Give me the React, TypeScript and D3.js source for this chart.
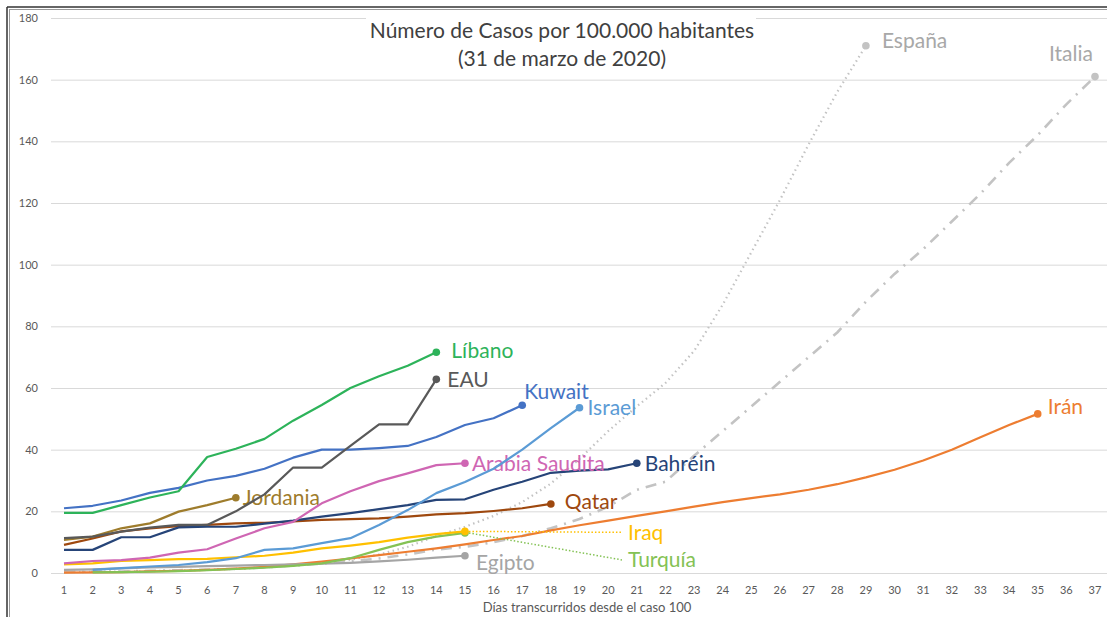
import React, { useEffect, useRef } from "react";
import * as d3 from "d3";

// dias transcurridos desde el caso 100
const dayTicks = [1, 2, 3, 4, 5, 6, 7, 8, 9, 10, 11, 12, 13, 14, 15, 16, 17, 18, 19, 20, 21, 22, 23, 24, 25, 26, 27, 28, 29, 30, 31, 32, 33, 34, 35, 36, 37];
const yTicks = [0, 20, 40, 60, 80, 100, 120, 140, 160, 180];

// casos por 100.000 habitantes, desde el dia "start"
const espana = [0.3, 0.4, 0.5, 0.6, 0.8, 1.0, 1.3, 1.8, 2.4, 3.2, 4.3, 6.0, 8.5, 12, 15, 18.5, 23, 29, 37, 46, 54, 61.6, 72, 87, 104, 121, 139, 156, 171];
const italia = [0.3, 0.4, 0.5, 0.7, 0.9, 1.1, 1.4, 1.8, 2.4, 3.0, 3.8, 4.7, 6.0, 7.6, 8.5, 10, 12, 14.5, 17.5, 21.5, 27, 29.6, 38, 46, 54, 62, 70, 78, 88, 97, 105, 114, 123, 133, 142, 152, 161];
const iran = [0.1, 0.2, 0.3, 0.5, 0.7, 1.0, 1.4, 2.0, 2.8, 3.7, 4.7, 5.8, 6.9, 8.0, 9.3, 10.7, 12.0, 13.8, 15.5, 17.0, 18.5, 20.0, 21.5, 23.0, 24.3, 25.5, 27.0, 28.8, 31.0, 33.5, 36.5, 40.0, 44.0, 48.0, 51.6];
const libano = [19.5, 19.5, 22.0, 24.5, 26.5, 37.6, 40.3, 43.5, 49.4, 54.5, 60.0, 63.8, 67.2, 71.6];
const eau = [11.3, 11.8, 13.4, 14.7, 15.6, 15.6, 20.0, 25.5, 34.2, 34.2, 41.2, 48.2, 48.2, 62.8];
const kuwait = [21.0, 21.8, 23.5, 26.0, 27.6, 30.0, 31.5, 33.8, 37.4, 40.0, 40.0, 40.5, 41.2, 44.1, 48.0, 50.2, 54.4];
const israel = [1.0, 1.6, 2.1, 2.6, 3.5, 4.8, 7.5, 8.0, 9.7, 11.3, 15.6, 20.4, 25.9, 29.5, 33.8, 40.0, 47.0, 53.6];
const arabia = [3.1, 3.9, 4.2, 5.0, 6.6, 7.7, 11.2, 14.5, 16.6, 22.6, 26.5, 29.8, 32.3, 35.0, 35.6];
const bahrein = [7.5, 7.5, 11.6, 11.6, 14.8, 15.0, 15.0, 16.0, 17.0, 18.3, 19.4, 20.7, 22.0, 23.7, 23.9, 27.0, 29.6, 32.5, 33.2, 33.6, 35.6];
const jordania = [10.7, 11.8, 14.5, 16.1, 19.9, 22.0, 24.4];
const qatar = [9.1, 11.2, 13.5, 14.5, 15.2, 15.6, 16.1, 16.3, 16.7, 17.2, 17.5, 17.7, 18.3, 19.0, 19.4, 20.1, 21.0, 22.4];
const iraq = [2.8, 3.1, 3.9, 4.2, 4.5, 4.6, 5.1, 5.6, 6.6, 8.0, 8.9, 10.0, 11.5, 12.6, 13.5];
const turquia = [0.2, 0.3, 0.4, 0.6, 0.9, 1.3, 1.7, 2.3, 3.1, 4.8, 7.5, 10, 11.8, 13];
const egipto = [1.0, 1.2, 1.5, 1.8, 2.0, 2.2, 2.4, 2.6, 2.8, 3.0, 3.3, 3.8, 4.3, 5.0, 5.6];

const series = [
  { name: "España", start: 1, values: espana, color: "#c3c3c3", text: "#a8a8a8", dash: "1.5,3.5", width: 2.2, dx: 16, dy: -5, anchor: "start" },
  { name: "Italia", start: 1, values: italia, color: "#c3c3c3", text: "#a8a8a8", dash: "11,7,2,7", width: 2.6, dx: -2, dy: -23, anchor: "end" },
  { name: "Irán", start: 1, values: iran, color: "#ed7d31", dx: 10, dy: -7 },
  { name: "Egipto", start: 1, values: egipto, color: "#a5a5a5", dx: 11, dy: 7 },
  { name: "Turquía", start: 2, values: turquia, color: "#84c255", dx: 163, dy: 27, leader: true },
  { name: "Iraq", start: 1, values: iraq, color: "#ffc000", dx: 163, dy: 1, leader: true },
  { name: "Qatar", start: 1, values: qatar, color: "#9e480e", dx: 14, dy: -2 },
  { name: "Jordania", start: 1, values: jordania, color: "#9e7c2c", dx: 7, dy: 0 },
  { name: "Bahréin", start: 1, values: bahrein, color: "#264478", dx: 8, dy: 0 },
  { name: "Arabia Saudita", start: 1, values: arabia, color: "#cf66b3", dx: 7, dy: 0 },
  { name: "Israel", start: 2, values: israel, color: "#5b9bd5", dx: 8, dy: 0 },
  { name: "Kuwait", start: 1, values: kuwait, color: "#4472c4", dx: 2, dy: -14 },
  { name: "EAU", start: 1, values: eau, color: "#595959", dx: 11, dy: 0 },
  { name: "Líbano", start: 1, values: libano, color: "#2db35a", dx: 15, dy: -2 },
];

const font = "Lato, 'Open Sans', sans-serif";

export default function App() {
  const ref = useRef<SVGSVGElement>(null);

  useEffect(() => {
    const svg = d3.select(ref.current);
    svg.selectAll("*").remove();

    const x = d3.scaleLinear().domain([1, 37]).range([64, 1095]);
    const y = d3.scaleLinear().domain([0, 180]).range([573, 18]);

    // marco
    svg.append("line").attr("x1", 7).attr("x2", 7).attr("y1", 7).attr("y2", 617).attr("stroke", "#333").attr("stroke-width", 1.5);
    svg.append("line").attr("x1", 9.5).attr("x2", 9.5).attr("y1", 9).attr("y2", 617).attr("stroke", "#999").attr("stroke-width", 1);
    svg.append("line").attr("x1", 7).attr("x2", 1107).attr("y1", 7).attr("y2", 7).attr("stroke", "#333").attr("stroke-width", 1.5);
    svg.append("line").attr("x1", 9).attr("x2", 1107).attr("y1", 9.5).attr("y2", 9.5).attr("stroke", "#999").attr("stroke-width", 1);

    // rejilla
    svg.append("g").selectAll("line").data(yTicks).join("line")
      .attr("x1", 51).attr("x2", 1107)
      .attr("y1", d => y(d) + 0.5).attr("y2", d => y(d) + 0.5)
      .attr("stroke", "#d9d9d9").attr("stroke-width", 1);

    svg.append("g").selectAll("text").data(yTicks).join("text")
      .attr("x", 38).attr("y", d => y(d)).attr("dy", "0.35em")
      .attr("text-anchor", "end").attr("font-family", font).attr("font-size", 11)
      .attr("fill", "#595959").text(d => d);

    svg.append("g").selectAll("text").data(dayTicks).join("text")
      .attr("x", d => x(d)).attr("y", 590).attr("dy", "0.35em")
      .attr("text-anchor", "middle").attr("font-family", font).attr("font-size", 11)
      .attr("fill", "#595959").text(d => d);

    svg.append("text").attr("x", 587).attr("y", 607).attr("dy", "0.35em")
      .attr("text-anchor", "middle").attr("font-family", font).attr("font-size", 13)
      .attr("fill", "#595959").text("Días transcurridos desde el caso 100");

    // titulo
    svg.append("rect").attr("x", 366).attr("y", 14).attr("width", 390).attr("height", 62).attr("fill", "#fff");
    const title = svg.append("text").attr("text-anchor", "middle").attr("font-family", font)
      .attr("font-size", 21).attr("fill", "#404040");
    title.append("tspan").attr("x", 562).attr("y", 38).text("Número de Casos por 100.000 habitantes");
    title.append("tspan").attr("x", 562).attr("y", 66).text("(31 de marzo de 2020)");

    series.forEach(s => {
      const pts = s.values.map((v, i) => [x(s.start + i), y(v)] as [number, number]);
      const g = svg.append("g");
      g.append("path")
        .attr("d", d3.line()(pts))
        .attr("fill", "none")
        .attr("stroke", s.color)
        .attr("stroke-width", s.width || 2.2)
        .attr("stroke-dasharray", s.dash || null)
        .attr("stroke-linejoin", "round");
      const [ex, ey] = pts[pts.length - 1];
      g.append("circle").attr("cx", ex).attr("cy", ey).attr("r", 3.8).attr("fill", s.color);
      if (s.leader) {
        g.append("line")
          .attr("x1", ex + 4).attr("y1", ey)
          .attr("x2", ex + s.dx - 6).attr("y2", ey + s.dy)
          .attr("stroke", s.color).attr("stroke-width", 1.5).attr("stroke-dasharray", "1.5,2");
      }
      g.append("text")
        .attr("x", ex + s.dx).attr("y", ey + s.dy).attr("dy", "0.35em")
        .attr("text-anchor", s.anchor || "start")
        .attr("font-family", font).attr("font-size", 21)
        .attr("fill", s.text || s.color)
        .text(s.name);
    });
  }, []);

  return (
    <svg ref={ref} width={1107} height={617}
      style={{ position: "fixed", left: 0, top: 0, background: "#fff" }} />
  );
}
